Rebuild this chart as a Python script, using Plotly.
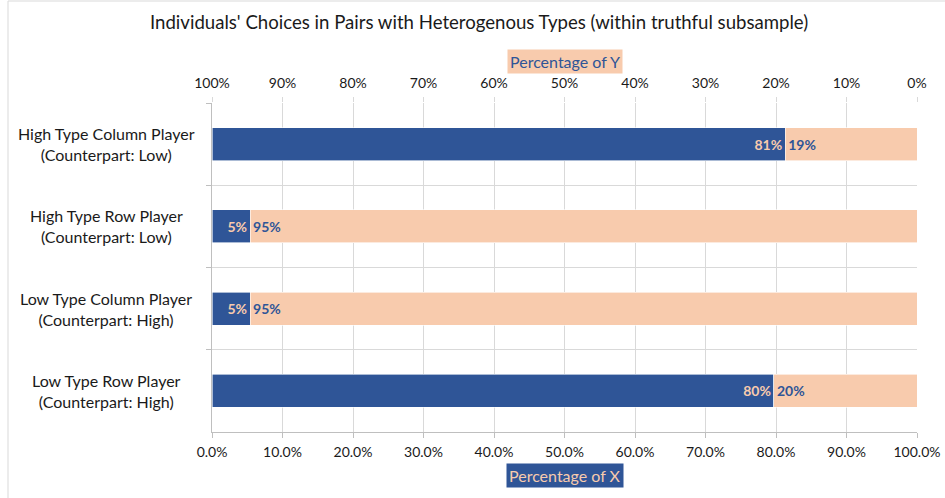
import plotly.graph_objects as go

categories = [
    "High Type Column Player<br>(Counterpart: Low)",
    "High Type Row Player<br>(Counterpart: Low)",
    "Low Type Column Player<br>(Counterpart: High)",
    "Low Type Row Player<br>(Counterpart: High)",
]
pct_x = [81.3, 5.4, 5.4, 79.7]
pct_y = [18.7, 94.6, 94.6, 20.3]
labels_x = ["81%", "5%", "5%", "80%"]
labels_y = ["19%", "95%", "95%", "20%"]
bottom_ticks = [0, 10, 20, 30, 40, 50, 60, 70, 80, 90, 100]
bottom_tick_text = ["0.0%", "10.0%", "20.0%", "30.0%", "40.0%", "50.0%", "60.0%", "70.0%", "80.0%", "90.0%", "100.0%"]
top_ticks = [100, 90, 80, 70, 60, 50, 40, 30, 20, 10, 0]
top_tick_text = ["100%", "90%", "80%", "70%", "60%", "50%", "40%", "30%", "20%", "10%", "0%"]

BLUE = "#2F5597"
PEACH = "#F8CBAD"
FONT = "Lato"
L, R, T, B = 212, 28, 103, 66
PW, PH = 945 - L - R, 498 - T - B

fig = go.Figure()
fig.add_trace(go.Bar(
    y=categories, x=pct_x, orientation="h", name="Percentage of X",
    marker=dict(color=BLUE, line=dict(color="white", width=0.6)),
    text=labels_x, textposition="inside", insidetextanchor="end",
    textfont=dict(color=PEACH, size=14, family=FONT, weight="bold"),
    width=0.4,
))
fig.add_trace(go.Bar(
    y=categories, x=pct_y, orientation="h", name="Percentage of Y",
    marker=dict(color=PEACH, line=dict(color="white", width=0.6)),
    text=labels_y, textposition="inside", insidetextanchor="start",
    textfont=dict(color=BLUE, size=14, family=FONT, weight="bold"),
    width=0.4,
))
# invisible trace to activate the top axis
fig.add_trace(go.Bar(y=categories, x=[0, 0, 0, 0], orientation="h",
                     xaxis="x2", showlegend=False, hoverinfo="skip",
                     marker=dict(color="rgba(0,0,0,0)")))

# category labels, centred per line as in the reference
cat_annotations = [
    dict(text=c, xref="paper", yref="y", x=-106 / PW, y=c, xanchor="center",
         yanchor="middle", align="center", showarrow=False,
         font=dict(size=16, family=FONT, color="#1a1a1a"))
    for c in categories
]

fig.update_layout(
    width=945, height=498,
    barmode="stack",
    showlegend=False,
    plot_bgcolor="white", paper_bgcolor="white",
    margin=dict(l=L, r=R, t=T, b=B, autoexpand=False),
    font=dict(family=FONT, size=14, color="#1a1a1a"),
    title=dict(text="Individuals' Choices in Pairs with Heterogenous Types (within truthful subsample)",
               x=0.507, xref="container", xanchor="center",
               y=1 - 22 / 498, yref="container", yanchor="middle",
               font=dict(size=18.6, family=FONT, color="#1a1a1a")),
    xaxis=dict(range=[0, 100], tickvals=bottom_ticks, ticktext=bottom_tick_text,
               showgrid=True, gridcolor="#d9d9d9", gridwidth=1, automargin=False,
               showline=True, linecolor="#bfbfbf", ticks="outside", ticklen=5,
               tickcolor="#bfbfbf", zeroline=False, tickfont=dict(size=14),
               ticklabelstandoff=2),
    xaxis2=dict(range=[100, 0], tickvals=top_ticks, ticktext=top_tick_text,
                overlaying="x", side="top", showgrid=False, showline=False,
                automargin=False, ticks="outside", ticklen=5, tickcolor="#d9d9d9",
                zeroline=False, tickfont=dict(size=14), ticklabelstandoff=3),
    yaxis=dict(type="category", autorange="reversed", tickson="boundaries",
               showgrid=True, gridcolor="#d9d9d9", gridwidth=1, automargin=False,
               showline=True, linecolor="#bfbfbf", ticks="outside", ticklen=5,
               tickcolor="#bfbfbf", showticklabels=False),
    annotations=cat_annotations + [
        dict(text="Percentage of Y", xref="paper", yref="paper", x=0.5,
             y=1.0 + 42 / PH, yanchor="middle",
             showarrow=False, bgcolor=PEACH, font=dict(color=BLUE, size=16, family=FONT),
             borderpad=2),
        dict(text="Percentage of X", xref="paper", yref="paper", x=0.5,
             y=-44 / PH, yanchor="middle",
             showarrow=False, bgcolor=BLUE, font=dict(color=PEACH, size=16, family=FONT),
             borderpad=2),
    ],
    shapes=[
        dict(type="rect", xref="paper", yref="paper",
             x0=(8 - L) / PW, x1=(960 - L) / PW, y0=(T + PH - 510) / PH, y1=(T + PH - 1) / PH,
             line=dict(color="#d9d9d9", width=1), fillcolor="rgba(0,0,0,0)", layer="below"),
    ],
)

fig.write_html("out.html", config={"displayModeBar": False},
               post_script="document.body.style.margin='0';")
